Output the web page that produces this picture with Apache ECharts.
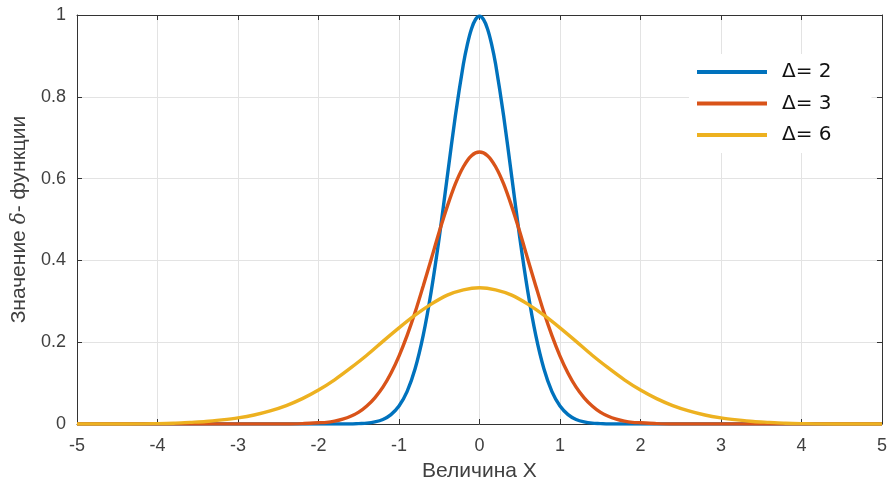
<!DOCTYPE html>
<html>
<head>
<meta charset="utf-8">
<script src="https://cdn.jsdelivr.net/npm/echarts@6/dist/echarts.min.js"></script>
<style>
html,body{margin:0;padding:0;background:#fff;}
#chart{width:890px;height:487px;}
</style>
</head>
<body>
<div id="chart"></div>
<script>
// ---- data ----
const seriesNames = ['Δ= 2', 'Δ= 3', 'Δ= 6'];

const blueX = [-5, -4, -3, -2, -1.6, -1.5, -1.4, -1.3, -1.2, -1.1, -1.0, -0.9, -0.8, -0.7, -0.6, -0.5, -0.4, -0.3, -0.2, -0.15, -0.1, -0.05, 0,
  0.05, 0.1, 0.15, 0.2, 0.3, 0.4, 0.5, 0.6, 0.7, 0.8, 0.9, 1.0, 1.1, 1.2, 1.3, 1.4, 1.5, 1.6, 2, 3, 4, 5];
const blueY = [0, 0, 0, 0, 0, 0.001, 0.002, 0.005, 0.011, 0.023, 0.044, 0.079, 0.135, 0.216, 0.324, 0.456, 0.605, 0.753, 0.880, 0.929, 0.966, 0.989, 0.997,
  0.989, 0.966, 0.929, 0.880, 0.753, 0.605, 0.456, 0.324, 0.216, 0.135, 0.079, 0.044, 0.023, 0.011, 0.005, 0.002, 0.001, 0, 0, 0, 0, 0];

const orangeX = [-5, -4, -3, -2.4, -2.2, -2.0, -1.9, -1.8, -1.7, -1.6, -1.5, -1.4, -1.3, -1.2, -1.1, -1.0, -0.9, -0.8, -0.7, -0.6, -0.5, -0.4, -0.3, -0.2, -0.1, 0,
  0.1, 0.2, 0.3, 0.4, 0.5, 0.6, 0.7, 0.8, 0.9, 1.0, 1.1, 1.2, 1.3, 1.4, 1.5, 1.6, 1.7, 1.8, 1.9, 2.0, 2.2, 2.4, 3, 4, 5];
const orangeY = [0, 0, 0, 0, 0.001, 0.003, 0.004, 0.007, 0.012, 0.019, 0.029, 0.044, 0.064, 0.090, 0.124, 0.166, 0.216, 0.273, 0.337, 0.403, 0.470, 0.532, 0.587, 0.629, 0.656, 0.665,
  0.656, 0.629, 0.587, 0.532, 0.470, 0.403, 0.337, 0.273, 0.216, 0.166, 0.124, 0.090, 0.064, 0.044, 0.029, 0.019, 0.012, 0.007, 0.004, 0.003, 0.001, 0, 0, 0, 0];

const yellowX = [-5, -4.4, -4.0, -3.8, -3.6, -3.4, -3.2, -3.0, -2.8, -2.6, -2.4, -2.2, -2.0, -1.8, -1.6, -1.4, -1.2, -1.0, -0.8, -0.6, -0.4, -0.2, 0,
  0.2, 0.4, 0.6, 0.8, 1.0, 1.2, 1.4, 1.6, 1.8, 2.0, 2.2, 2.4, 2.6, 2.8, 3.0, 3.2, 3.4, 3.6, 3.8, 4.0, 4.4, 5];
const yellowY = [0, 0, 0.001, 0.002, 0.004, 0.006, 0.010, 0.015, 0.022, 0.032, 0.045, 0.062, 0.083, 0.108, 0.137, 0.168, 0.202, 0.235, 0.266, 0.293, 0.315, 0.328, 0.333,
  0.328, 0.315, 0.293, 0.266, 0.235, 0.202, 0.168, 0.137, 0.108, 0.083, 0.062, 0.045, 0.032, 0.022, 0.015, 0.010, 0.006, 0.004, 0.002, 0.001, 0, 0];

const xTicks = { min: -5, max: 5, interval: 1 };
const yTicks = { min: 0, max: 1, interval: 0.2 };
// ----------------------------------------------

function pairs(xs, ys) { return xs.map((x, i) => [x, ys[i]]); }

const colors = ['#0072BD', '#D95319', '#EDB120'];
const axisCol = '#404040';
const font = 'Liberation Sans';

const chart = echarts.init(document.getElementById('chart'), null, { renderer: 'canvas' });

const baseX = {
  type: 'value', min: xTicks.min, max: xTicks.max, interval: xTicks.interval
};
const baseY = {
  type: 'value', min: yTicks.min, max: yTicks.max, interval: yTicks.interval
};

chart.setOption({
  animation: false,
  backgroundColor: '#ffffff',
  color: colors,
  grid: { left: 77, right: 5, top: 15, bottom: 60, containLabel: false },
  legend: {
    orient: 'vertical',
    left: 689, top: 54,
    padding: [8, 40, 8, 8],
    backgroundColor: '#ffffff',
    itemWidth: 70, itemHeight: 4, itemGap: 11.5,
    icon: 'rect',
    data: seriesNames,
    textStyle: { fontFamily: 'DejaVu Sans', fontSize: 20, color: '#111', lineHeight: 20, padding: [0, 0, 0, 10] }
  },
  xAxis: [
    Object.assign({}, baseX, {
      position: 'bottom',
      name: 'Величина X', nameLocation: 'middle', nameGap: 37,
      nameTextStyle: { fontFamily: font, fontSize: 21, color: axisCol },
      axisLine: { show: true, onZero: false, lineStyle: { color: '#333', width: 1 } },
      axisTick: { show: true, inside: true, length: 5, lineStyle: { color: '#333' } },
      axisLabel: { fontFamily: font, fontSize: 18, color: axisCol, margin: 13 },
      splitLine: { show: true, lineStyle: { color: '#e3e3e3', width: 1 } }
    }),
    Object.assign({}, baseX, {
      position: 'top',
      axisLine: { show: true, onZero: false, lineStyle: { color: '#333', width: 1 } },
      axisTick: { show: true, inside: true, length: 5, lineStyle: { color: '#333' } },
      axisLabel: { show: false },
      splitLine: { show: false }
    })
  ],
  yAxis: [
    Object.assign({}, baseY, {
      position: 'left',
      name: '{a|Значение }{d|δ}{a|- функции}', nameLocation: 'middle', nameGap: 44,
      nameTextStyle: {
        rich: {
          a: { fontFamily: font, fontSize: 21, color: axisCol },
          d: { fontFamily: 'DejaVu Serif', fontStyle: 'italic', fontSize: 20, color: axisCol }
        }
      },
      axisLine: { show: true, onZero: false, lineStyle: { color: '#333', width: 1 } },
      axisTick: { show: true, inside: true, length: 5, lineStyle: { color: '#333' } },
      axisLabel: { fontFamily: font, fontSize: 18, color: axisCol, margin: 11 },
      splitLine: { show: true, lineStyle: { color: '#e3e3e3', width: 1 } }
    }),
    Object.assign({}, baseY, {
      position: 'right',
      axisLine: { show: true, onZero: false, lineStyle: { color: '#333', width: 1 } },
      axisTick: { show: true, inside: true, length: 5, lineStyle: { color: '#333' } },
      axisLabel: { show: false },
      splitLine: { show: false }
    })
  ],
  series: [
    { name: seriesNames[0], type: 'line', data: pairs(blueX, blueY), showSymbol: false, smooth: 0.3, lineStyle: { width: 3.4, color: colors[0] }, z: 3 },
    { name: seriesNames[1], type: 'line', data: pairs(orangeX, orangeY), showSymbol: false, smooth: 0.3, lineStyle: { width: 3.4, color: colors[1] }, z: 4 },
    { name: seriesNames[2], type: 'line', data: pairs(yellowX, yellowY), showSymbol: false, smooth: 0.3, lineStyle: { width: 3.4, color: colors[2] }, z: 5 }
  ]
});
</script>
</body>
</html>
